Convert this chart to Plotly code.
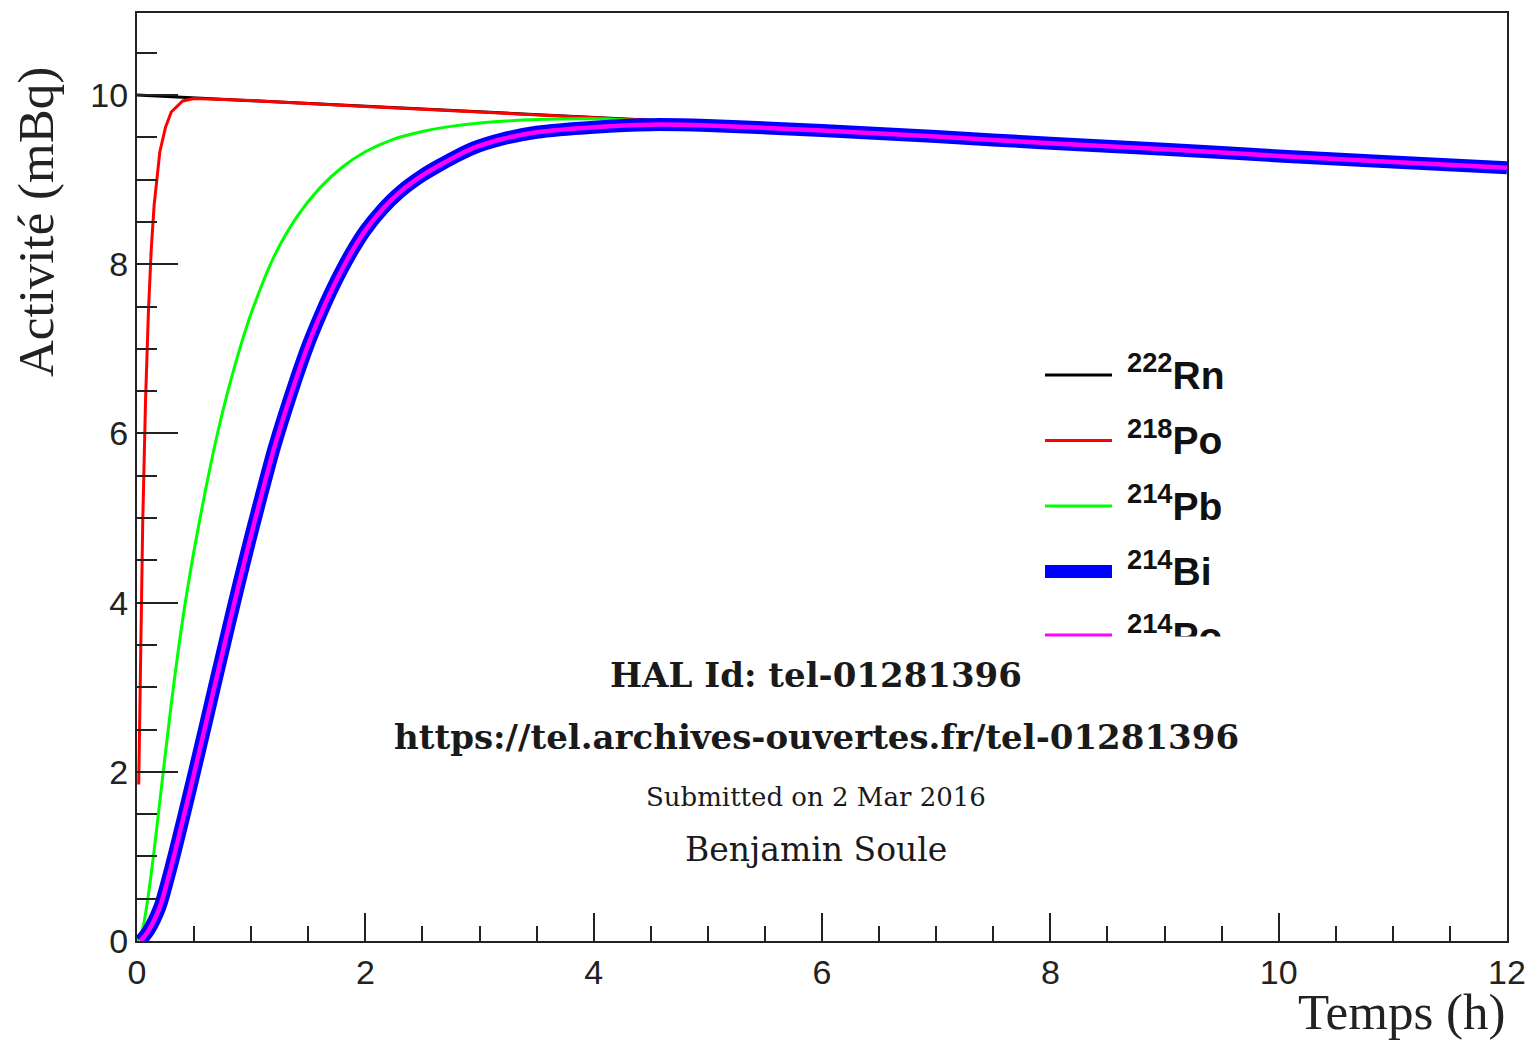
import plotly.graph_objects as go

# ---------------- data ----------------
t_rn = [0, 1, 2, 3, 4, 5, 6, 7, 8, 9, 10, 11, 12]
rn = [10.0, 9.935, 9.865, 9.80, 9.735, 9.67, 9.60, 9.53, 9.46, 9.38, 9.31, 9.23, 9.15]

t_po218 = [0.015, 0.03, 0.05, 0.075, 0.1, 0.125, 0.15, 0.2, 0.25, 0.3, 0.4, 0.5,
           1, 2, 3, 4, 5, 6, 7, 8, 9, 10, 11, 12]
po218 = [1.85, 3.36, 4.94, 6.40, 7.44, 8.18, 8.70, 9.33, 9.62, 9.80, 9.93, 9.96,
         9.935, 9.865, 9.80, 9.735, 9.67, 9.60, 9.53, 9.46, 9.38, 9.31, 9.23, 9.15]

t_pb = [0, 0.05, 0.1, 0.15, 0.2, 0.3, 0.4, 0.5, 0.6, 0.7, 0.8, 0.9, 1.0, 1.2, 1.4,
        1.6, 1.8, 2.0, 2.25, 2.5, 2.75, 3.0, 3.5, 4, 5, 6, 7, 8, 9, 10, 11, 12]
pb = [0.0, 0.15, 0.55, 1.07, 1.65, 2.80, 3.80, 4.62, 5.33, 5.97, 6.52, 7.00, 7.42, 8.09, 8.56,
      8.90, 9.15, 9.33, 9.48, 9.57, 9.63, 9.67, 9.71, 9.72, 9.66, 9.59, 9.52, 9.45, 9.37, 9.30,
      9.22, 9.15]

t_bi = [0.03, 0.1, 0.2, 0.3, 0.4, 0.5, 0.6, 0.7, 0.8, 0.9, 1.0, 1.1, 1.2, 1.3, 1.4, 1.5, 1.6,
        1.7, 1.8, 1.9, 2.0, 2.15, 2.3, 2.5, 2.65, 2.8, 2.94, 3.2, 3.5, 4.0, 4.5, 5, 6, 7, 8, 9,
        10, 11, 12]
bi = [0.0, 0.12, 0.40, 0.88, 1.42, 1.98, 2.55, 3.13, 3.70, 4.26, 4.80, 5.32, 5.82, 6.26, 6.67,
      7.05, 7.38, 7.68, 7.95, 8.19, 8.40, 8.65, 8.85, 9.05, 9.17, 9.28, 9.37, 9.48, 9.56, 9.62,
      9.65, 9.64, 9.58, 9.51, 9.43, 9.36, 9.28, 9.21, 9.14]
po214 = [0.0, 0.12, 0.40, 0.88, 1.42, 1.98, 2.55, 3.13, 3.70, 4.26, 4.80, 5.32, 5.82, 6.26, 6.67,
         7.05, 7.38, 7.68, 7.95, 8.19, 8.40, 8.65, 8.85, 9.05, 9.17, 9.28, 9.37, 9.48, 9.56, 9.62,
         9.65, 9.64, 9.58, 9.51, 9.43, 9.36, 9.28, 9.21, 9.14]

labels = ["<b><sup>222</sup>Rn</b>", "<b><sup>218</sup>Po</b>", "<b><sup>214</sup>Pb</b>",
          "<b><sup>214</sup>Bi</b>", "<b><sup>214</sup>Po</b>"]

watermark = ["<b>HAL Id: tel-01281396</b>",
             "<b>https://tel.archives-ouvertes.fr/tel-01281396</b>",
             "Submitted on 2 Mar 2016",
             "Benjamin Soule"]

x_title = "Temps (h)"
y_title = "Activité (mBq)"

# ---------------- layout geometry ----------------
W, H = 1528, 1041
X0PX, X1PX, XMAX = 137, 1507, 12
YBOT, YTOP, YMAX = 941, 13, 10.97


def px2x(p):
    return (p - X0PX) / (X1PX - X0PX) * XMAX


def px2y(p):
    return (YBOT - p) / (YBOT - YTOP) * YMAX


def ppx(p):
    return (p - X0PX) / (X1PX - X0PX)


def ppy(p):
    return (YBOT - p) / (YBOT - YTOP)


colors = ["#000000", "#ff0000", "#00ff00", "#0000ff", "#ff00ff"]
widths = [3, 3, 3, 13, 4.5]
leg_widths = [3, 3, 3, 13, 4]
shapes_line = ["linear", "linear", "spline", "spline", "spline"]
series = [(t_rn, rn), (t_po218, po218), (t_pb, pb), (t_bi, bi), (t_bi, po214)]

fig = go.Figure()
for (tx, vy), c, w, sh in zip(series, colors, widths, shapes_line):
    fig.add_trace(go.Scatter(x=tx, y=vy, mode="lines",
                             line=dict(color=c, width=w, shape=sh, smoothing=0.7),
                             showlegend=False, hoverinfo="skip"))

# custom ROOT-like legend
leg_y = [375, 440.5, 506, 571.5, 636]
fig.add_trace(go.Scatter(
    x=[px2x(1127)] * len(labels), y=[px2y(py + 4) for py in leg_y],
    mode="text", text=labels, textposition="middle right",
    textfont=dict(family="Liberation Sans", size=39, color="#111"),
    showlegend=False, hoverinfo="skip", cliponaxis=False))

leg_line_y = [375, 440.5, 506, 571.5, 635.5]
shapes = []
for py, c, w in zip(leg_line_y, colors, leg_widths):
    shapes.append(dict(type="line", xref="x", yref="y",
                       x0=px2x(1045), x1=px2x(1112), y0=px2y(py), y1=px2y(py),
                       line=dict(color=c, width=w), layer="above"))
# white box hiding the lower part of the legend (as in the reference)
shapes.append(dict(type="rect", xref="x", yref="y",
                   x0=px2x(1030), x1=px2x(1260), y0=px2y(636.5), y1=px2y(668),
                   fillcolor="white", line=dict(width=0), layer="above"))

annotations = [
    dict(text=y_title, xref="paper", yref="paper", x=ppx(36), y=ppy(222),
         xanchor="center", yanchor="middle", textangle=-90, showarrow=False,
         font=dict(family="Liberation Serif", size=51, color="#222")),
    dict(text=x_title, xref="paper", yref="paper", x=1.0, y=ppy(1012),
         xanchor="right", yanchor="middle", showarrow=False,
         font=dict(family="Liberation Serif", size=51, color="#222")),
]
wm_y = [675, 737, 797, 849]
wm_size = [34, 34, 26, 33]
for txt, py, s in zip(watermark, wm_y, wm_size):
    annotations.append(dict(text=txt, xref="paper", yref="paper", x=ppx(816), y=ppy(py),
                            xanchor="center", yanchor="middle", showarrow=False,
                            font=dict(family="DejaVu Serif", size=s, color="#1a1a1a")))

axis_common = dict(showline=True, linecolor="#222", linewidth=2, mirror=True,
                   showgrid=False, zeroline=False, ticks="inside", tickcolor="#222",
                   tickwidth=2, automargin=False,
                   tickfont=dict(family="Liberation Sans", size=34, color="#222"))

fig.update_layout(
    template="none",
    width=W, height=H, autosize=False,
    margin=dict(l=X0PX, r=W - X1PX, t=YTOP, b=H - YBOT, pad=0),
    paper_bgcolor="white", plot_bgcolor="white",
    xaxis=dict(range=[0, XMAX], tick0=0, dtick=2, ticklen=28, ticklabelstandoff=0,
               minor=dict(dtick=0.5, ticklen=15, ticks="inside", tickcolor="#222", tickwidth=2),
               **axis_common),
    yaxis=dict(range=[0, YMAX], tick0=0, dtick=2, ticklen=41, ticklabelstandoff=0,
               minor=dict(dtick=0.5, ticklen=20, ticks="inside", tickcolor="#222", tickwidth=2),
               **axis_common),
    shapes=shapes,
    annotations=annotations,
)

fig.write_html("out.html", config={"displayModeBar": False},
               post_script="document.body.style.margin='0';")
